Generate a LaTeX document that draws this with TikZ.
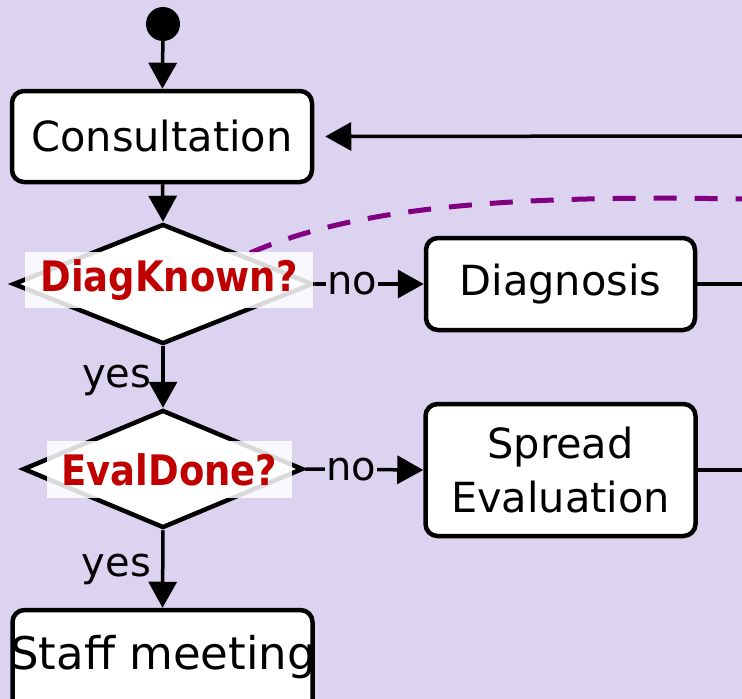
\documentclass[tikz,border=0pt]{standalone}
\usepackage{fontspec}
\setmainfont{DejaVu Sans}
\usetikzlibrary{arrows.meta,shapes.geometric}
\definecolor{bg}{RGB}{220,211,240}
\definecolor{lab}{RGB}{192,0,0}
\definecolor{dashc}{RGB}{128,0,128}
\begin{document}
\begin{tikzpicture}[x=1pt,y=-1pt,
  box/.style={draw,fill=white,line width=4.5pt,rounded corners=12pt,
    font=\fontsize{41.5}{54}\selectfont,align=center,inner sep=0pt},
  cond/.style={draw,fill=white,line width=4.5pt,diamond,inner sep=0pt},
  lbl/.style={fill=white,fill opacity=0.85,text opacity=1,text=lab,
    font=\bfseries\addfontfeature{FakeStretch=0.88}\fontsize{42}{48}\selectfont,inner sep=0pt},
  txt/.style={font=\fontsize{40}{46}\selectfont,inner sep=1pt},
  conn/.style={line width=3.5pt,-{Triangle[length=26pt,width=28pt]}},
  plain/.style={line width=3.5pt}]
\fill[bg] (0,0) rectangle (742,699);
\useasboundingbox (0,0) rectangle (742,699);

\node[circle,fill=black,minimum size=34pt,inner sep=0pt] (start) at (163,24) {};
\node[box,minimum width=300pt,minimum height=91pt] (cons) at (162,136.5) {Consultation};
\node[cond,minimum width=300pt,minimum height=120pt] (dk) at (163,284) {};
\node[box,minimum width=269pt,minimum height=92pt] (diag) at (560.5,284) {Diagnosis};
\node[cond,minimum width=280pt,minimum height=118pt] (ed) at (163,469) {};
\node[box,minimum width=270pt,minimum height=132pt] (se) at (560.5,470) {Spread\\Evaluation};
\node[box,minimum width=300pt,minimum height=120pt] (staff) at (162.5,670) {};
\node[font=\fontsize{45}{50}\selectfont,inner sep=0pt] (stafft) at (163,657) {\makebox[0pt]{Staff meeting}};

\coordinate (r1) at (742,136);
\coordinate (r2) at (742,284);
\coordinate (r3) at (742,470);
\coordinate (d0) at (250,253);
\coordinate (d1) at (742,199);

\draw[conn] (start) -- (cons);
\draw[conn] (cons) -- (dk.north);
\draw[conn] (dk.east) -- node[pos=0.34,txt,fill=bg] (no1) {no} (diag.west);
\draw[conn] (dk.south) -- node[txt,anchor=east,pos=0.55,xshift=-9pt] (yes1) {yes} (ed.north);
\draw[conn] (ed.east) -- node[pos=0.39,txt,fill=bg] (no2) {no} (se.west);
\draw[conn] (ed.south) -- node[txt,anchor=east,pos=0.5,xshift=-9pt] (yes2) {yes} (staff.north);
\draw[conn,shorten >=11pt] (r1) -- (cons.east);
\draw[plain] (diag.east) -- (r2);
\draw[plain] (se.east) -- (r3);
\draw[dashc,line width=5pt,dash pattern=on 23pt off 18pt] (d0) .. controls (360,205) and (520,195) .. (d1);

\node[lbl,minimum width=288pt,minimum height=56pt] (dkl) at (169,280) {DiagKnown?};
\node[lbl,minimum width=245pt,minimum height=57pt] (edl) at (169.5,469.5) {EvalDone?};
\end{tikzpicture}
\end{document}
